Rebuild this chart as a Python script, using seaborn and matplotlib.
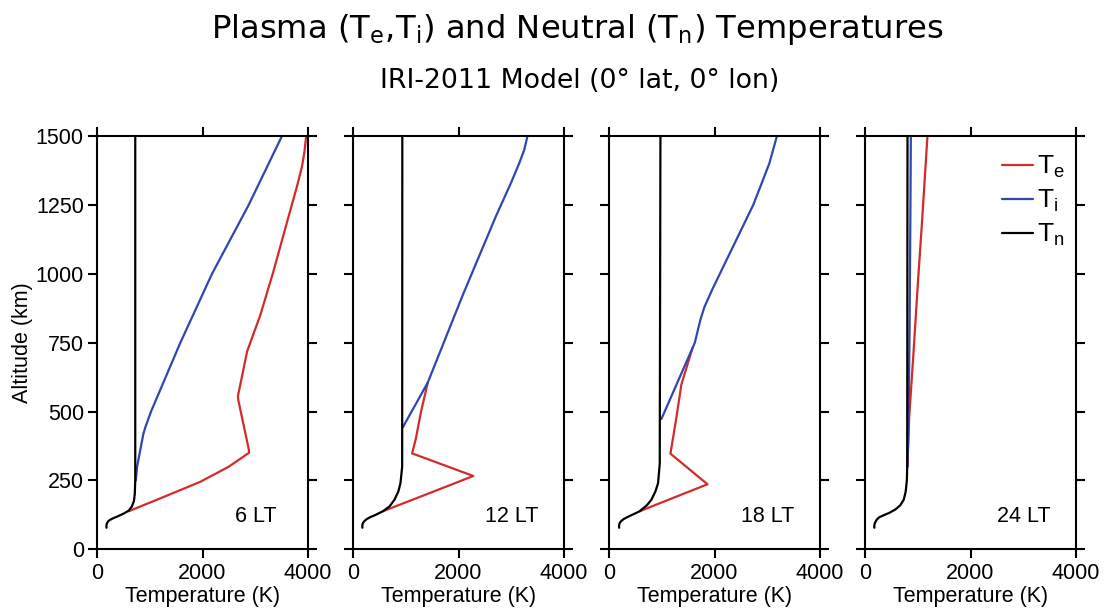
import numpy as np
import pandas as pd
import matplotlib
matplotlib.use("Agg")
import matplotlib.pyplot as plt
import seaborn as sns
from matplotlib.lines import Line2D

# ---------------- data ----------------
panels = ["6 LT", "12 LT", "18 LT", "24 LT"]

# 6 LT
tn1_alt = [78, 84, 92, 100, 106, 112, 120, 130, 140, 155, 175, 200, 250, 1500]
tn1_T = [180, 178, 184, 205, 240, 300, 400, 510, 600, 660, 700, 716, 725, 725]
te1_alt = [138, 180, 245, 300, 350, 360, 450, 540, 555, 620, 718, 850, 1006, 1197, 1317, 1389, 1440, 1500]
te1_T = [600, 1140, 1960, 2500, 2880, 2880, 2780, 2680, 2670, 2740, 2845, 3095, 3340, 3615, 3790, 3885, 3930, 3965]
ti1_alt = [250, 300, 360, 420, 445, 500, 750, 1000, 1250, 1500]
ti1_T = [735, 760, 820, 880, 920, 1024, 1580, 2180, 2875, 3505]

# 12 LT
tn2_alt = [78, 84, 92, 100, 108, 116, 125, 138, 155, 180, 210, 240, 300, 1500]
tn2_T = [178, 176, 182, 205, 250, 320, 430, 567, 690, 787, 860, 900, 932, 935]
te2_alt = [138, 200, 266, 300, 348, 400, 500, 605]
te2_T = [567, 1400, 2280, 1800, 1120, 1190, 1290, 1417]
ti2_alt = [443, 605, 922, 1209, 1329, 1401, 1449, 1500]
ti2_T = [945, 1417, 2079, 2709, 2992, 3150, 3244, 3307]

# 18 LT
tn3_alt = [78, 84, 92, 100, 108, 116, 125, 138, 160, 180, 210, 240, 311, 1500]
tn3_T = [192, 190, 196, 220, 266, 340, 440, 582, 720, 804, 880, 930, 962, 975]
te3_alt = [138, 236, 347, 479, 599, 730]
te3_T = [582, 1867, 1165, 1278, 1373, 1582]
ti3_alt = [473, 730, 750, 800, 838, 880, 940, 1000, 1250, 1400, 1496]
ti3_T = [994, 1582, 1627, 1690, 1740, 1810, 1950, 2101, 2734, 3038, 3177]

# 24 LT
tn4_alt = [78, 84, 92, 100, 108, 116, 124, 132, 145, 160, 180, 210, 251, 300, 1500]
tn4_T = [178, 176, 182, 200, 225, 270, 360, 460, 580, 670, 735, 772, 794, 800, 806]
te4_alt = [300, 480, 700, 958, 1200, 1500]
te4_T = [805, 838, 915, 1000, 1085, 1184]
ti4_alt = [300, 450, 800, 1200, 1500]
ti4_T = [805, 825, 845, 860, 869]

species = ["Te", "Ti", "Tn"]
legend_labels = [r"T$_\mathregular{e}$", r"T$_\mathregular{i}$", r"T$_\mathregular{n}$"]
x_ticks = [0, 2000, 4000]
y_ticks = [0, 250, 500, 750, 1000, 1250, 1500]

profiles = {
    "6 LT": {"Te": (te1_T, te1_alt), "Ti": (ti1_T, ti1_alt), "Tn": (tn1_T, tn1_alt)},
    "12 LT": {"Te": (te2_T, te2_alt), "Ti": (ti2_T, ti2_alt), "Tn": (tn2_T, tn2_alt)},
    "18 LT": {"Te": (te3_T, te3_alt), "Ti": (ti3_T, ti3_alt), "Tn": (tn3_T, tn3_alt)},
    "24 LT": {"Te": (te4_T, te4_alt), "Ti": (ti4_T, ti4_alt), "Tn": (tn4_T, tn4_alt)},
}

rows = []
for p in panels:
    for s in species:
        T, alt = profiles[p][s]
        for t, a in zip(T, alt):
            rows.append({"panel": p, "species": s, "temperature": t, "altitude": a})
df = pd.DataFrame(rows)

# ---------------- style ----------------
sns.set_theme(style="ticks")
plt.rcParams["font.family"] = ["Liberation Sans", "DejaVu Sans"]
plt.rcParams["mathtext.fontset"] = "custom"
plt.rcParams["mathtext.rm"] = "Liberation Sans"
for k in ["text.color", "axes.labelcolor", "xtick.color", "ytick.color", "axes.edgecolor"]:
    plt.rcParams[k] = "black"

palette = {"Te": "#d42a2a", "Ti": "#3046b0", "Tn": "#000000"}

fig, axes = plt.subplots(1, 4, figsize=(11.06, 6.13), dpi=100)
fig.subplots_adjust(left=0.0877, right=0.9729, bottom=0.104, top=0.778, wspace=0.213)

fs = 15.5
for ax, p in zip(axes, panels):
    sub = df[df["panel"] == p]
    for s in species:
        d = sub[sub["species"] == s]
        sns.lineplot(data=d, x="temperature", y="altitude", color=palette[s],
                     sort=False, estimator=None, linewidth=1.6, ax=ax, legend=False)
    ax.set_xlim(0, 4000)
    ax.set_ylim(0, 1500)
    ax.set_xticks(x_ticks)
    ax.set_yticks(y_ticks)
    ax.tick_params(direction="out", length=6.5, width=1.5, top=True, right=True,
                   labelsize=fs, colors="black")
    ax.tick_params(axis="x", pad=3.5)
    ax.tick_params(axis="y", pad=3)
    for sp in ax.spines.values():
        sp.set_visible(True)
        sp.set_linewidth(1.5)
        sp.set_color("black")
    ax.set_xlabel("Temperature (K)", fontsize=fs, labelpad=1)
    ax.set_ylabel("")
    ax.text(0.75, 0.079, p, transform=ax.transAxes, ha="center", va="center", fontsize=fs)
    if p != panels[0]:
        ax.tick_params(axis="y", labelleft=False)

axes[0].set_ylabel("Altitude (km)", fontsize=fs, labelpad=2)

handles = [Line2D([0], [0], color=palette[s], lw=1.6) for s in species]
axes[-1].legend(handles, legend_labels, loc="upper right", bbox_to_anchor=(1.02, 0.995),
                frameon=False, fontsize=19, handlelength=1.2, handletextpad=0.12,
                labelspacing=0.28, borderaxespad=0.2)

fig.text(0.522, 0.938, r"Plasma (T$_\mathregular{e}$,T$_\mathregular{i}$) and Neutral (T$_\mathregular{n}$) Temperatures",
         ha="center", va="baseline", fontsize=23.2, family="DejaVu Sans",
         math_fontfamily="dejavusans")
fig.text(0.524, 0.856, "IRI-2011 Model (0° lat, 0° lon)", ha="center", va="baseline",
         fontsize=19.3, family="DejaVu Sans")

fig.savefig("out.png", dpi=100)
